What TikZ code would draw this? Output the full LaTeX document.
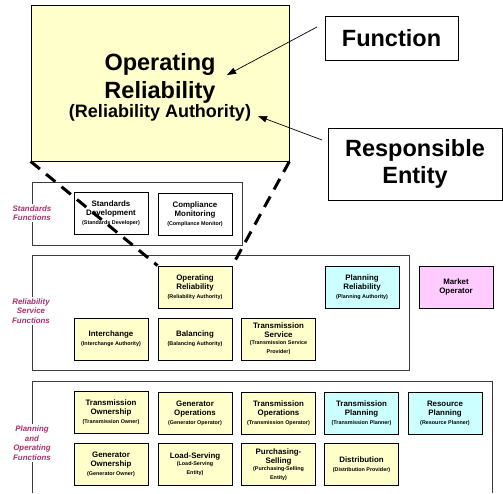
\documentclass[tikz,border=0pt]{standalone}
\usepackage{fontspec}
\setmainfont{Liberation Sans}
\usetikzlibrary{arrows.meta,shadows}

\definecolor{fnyellow}{RGB}{255,255,204}
\definecolor{fncyan}{RGB}{204,255,255}
\definecolor{fnpink}{RGB}{255,204,255}
\definecolor{grouplabel}{RGB}{168,48,108}
\definecolor{groupline}{RGB}{60,60,60}

% font switches for the small function boxes
\newcommand{\fntitle}{\fontsize{7.9}{9}\selectfont}
\newcommand{\fnsub}{\fontsize{5.4}{7}\selectfont}

\tikzset{
  fnbox/.style={draw=black, line width=0.8pt, minimum width=74pt, minimum height=42pt,
    inner sep=0pt, text width=72pt, align=flush center, font=\bfseries\fntitle,
    drop shadow={shadow xshift=0.9pt, shadow yshift=-0.9pt, fill=black!50, opacity=1}},
  yelbox/.style={fnbox, fill=fnyellow},
  cyanbox/.style={fnbox, fill=fncyan},
  pinkbox/.style={fnbox, fill=fnpink},
  groupframe/.style={draw=groupline, line width=0.9pt},
  groupnote/.style={fill=white, inner sep=1.5pt, align=center, text=grouplabel,
    font=\bfseries\itshape\fontsize{7.9}{9.6}\selectfont},
  keybox/.style={draw=black, line width=0.8pt, fill=white, inner sep=0pt, align=flush center,
    font=\bfseries\fontsize{23.5}{27}\selectfont},
  callout/.style={draw=black, line width=0.7pt, -{Triangle[length=9pt,width=6.5pt]}},
  zoomline/.style={draw=black, line width=3pt, dash pattern=on 12pt off 8pt}
}

\begin{document}
\begin{tikzpicture}[x=1pt, y=-1pt]
  \useasboundingbox (0,0) rectangle (503,493);

  % enlarged function box
  \node[draw=black, line width=0.8pt, fill=fnyellow, minimum width=258pt, minimum height=156pt,
        inner sep=0pt] (big) at (160,83) {};
  \node[text width=250pt, align=flush center, inner sep=0pt, font=\bfseries] (bigtext) at (160,87.5)
    {\fontsize{23.5}{28}\selectfont Operating\\Reliability\par
     \fontsize{18}{25}\selectfont (Reliability Authority)};

  % key boxes
  \node[keybox, minimum width=133pt, minimum height=44pt] (fnkey) at (391.5,38) {Function};
  \node[keybox, minimum width=174pt, minimum height=72pt, text width=170pt] (entkey) at (415,164)
    {Responsible\\Entity};

  \coordinate (fnTail) at (317,27);
  \coordinate (fnTip) at (227,75);
  \coordinate (entTail) at (322,140);
  \coordinate (entTip) at (258,116);
  \draw[callout] (fnTail) -- (fnTip);
  \draw[callout] (entTail) -- (entTip);

  % group frames
  \draw[groupframe] (32,182) rectangle (242,245);
  \draw[groupframe] (32,255) rectangle (409,370);
  \draw[groupframe] (32,493) -- (32,381) -- (492,381) -- (492,493);

  \node[groupnote] (stdnote) at (32,213) {Standards\\Functions};
  \node[groupnote] (relnote) at (31,311) {Reliability\\Service\\Functions};
  \node[groupnote] (plannote) at (32,443) {Planning\\and\\Operating\\Functions};

  % standards functions
  \node[fnbox, fill=white] (stddev) at (111,213)
    {Standards\\Development\par\fnsub (Standards Developer)};
  \node[fnbox, fill=white] (compmon) at (195,214)
    {Compliance\\Monitoring\par\fnsub (Compliance Monitor)};

  % reliability service functions
  \node[yelbox] (oprel) at (195,287)
    {Operating\\Reliability\par\fnsub (Reliability Authority)};
  \node[cyanbox] (planrel) at (362,287)
    {Planning\\Reliability\par\fnsub (Planning Authority)};
  \node[pinkbox] (market) at (456,287) {Market\\Operator};
  \node[yelbox] (interchange) at (111,339)
    {Interchange\par\fnsub (Interchange Authority)};
  \node[yelbox] (balancing) at (195,339)
    {Balancing\par\fnsub (Balancing Authority)};
  \node[yelbox] (transserv) at (278.5,339)
    {Transmission\\Service\par\fnsub (Transmission Service\\Provider)};

  % planning and operating functions
  \node[yelbox] (transown) at (111,412.5)
    {Transmission\\Ownership\par\fnsub (Transmission Owner)};
  \node[yelbox] (genops) at (195,413)
    {Generator\\Operations\par\fnsub (Generator Operator)};
  \node[yelbox] (transops) at (278.5,413)
    {Transmission\\Operations\par\fnsub (Transmission Operator)};
  \node[cyanbox] (transplan) at (361.5,413)
    {Transmission\\Planning\par\fnsub (Transmission Planner)};
  \node[cyanbox] (resplan) at (445,413)
    {Resource\\Planning\par\fnsub (Resource Planner)};
  \node[yelbox] (genown) at (111,464.5)
    {Generator\\Ownership\par\fnsub (Generator Owner)};
  \node[yelbox] (loadserv) at (195,464.5)
    {Load-Serving\par\fnsub (Load-Serving\\Entity)};
  \node[yelbox] (purchsell) at (278.5,464.5)
    {Purchasing-\\Selling\par\fnsub (Purchasing-Selling\\Entity)};
  \node[yelbox] (distrib) at (361.5,464.5)
    {Distribution\par\fnsub (Distribution Provider)};

  % zoom lines from the enlarged box down to its small counterpart
  \draw[zoomline] (big.south west) -- (oprel.north west);
  \draw[zoomline] (big.south east) -- (oprel.north east);
\end{tikzpicture}
\end{document}
